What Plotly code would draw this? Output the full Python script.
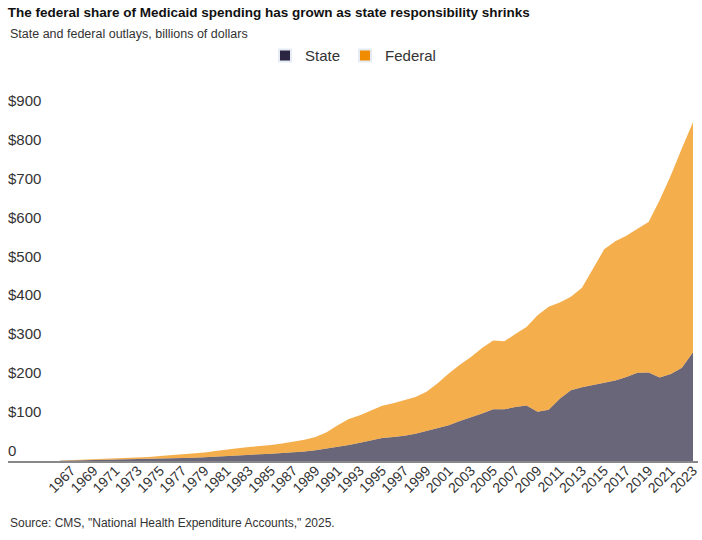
import plotly.graph_objects as go

years = list(range(1966, 2024))

state = [0.8, 1.4, 1.6, 2.0, 2.4, 2.8, 3.5, 4.0, 4.6, 5.9,
         6.6, 7.7, 8.6, 9.8, 11.6, 13.5, 15.0, 16.5, 17.3, 18.6,
         20.0, 22.0, 24.5, 27.5, 32.0, 36.0, 41.0, 47.0, 54.0, 59.0,
         62.0, 65.0, 70.0, 77.0, 85.0, 92.0, 103.0, 112.0, 122.0, 133.0,
         133.0, 139.0, 143.0, 127.0, 132.0, 160.0, 182.0, 190.0, 196.0, 202.0,
         207.0, 216.0, 227.0, 228.0, 215.0, 224.0, 240.0, 280.0]

federal = [0.7, 1.6, 1.9, 2.5, 3.1, 3.7, 4.5, 5.0, 5.9, 7.1,
           8.4, 9.8, 10.9, 12.2, 14.4, 16.5, 18.0, 19.5, 20.7, 22.4,
           25.0, 28.0, 30.5, 34.5, 42.0, 56.0, 67.0, 71.0, 76.0, 83.0,
           87.0, 92.0, 95.0, 101.0, 115.0, 133.0, 145.0, 156.0, 169.0, 177.0,
           175.0, 188.0, 202.0, 248.0, 265.0, 248.0, 241.0, 256.0, 299.0, 343.0,
           359.0, 364.0, 371.0, 387.0, 457.0, 511.0, 565.0, 592.0]

x_ticks = list(range(1967, 2024, 2))
y_ticks = [0, 100, 200, 300, 400, 500, 600, 700, 800, 900]
y_labels = ["0", "$100", "$200", "$300", "$400", "$500", "$600", "$700", "$800", "$900"]

STATE_C = "#2b2541"
FED_C = "#f08c00"
FONT = "Liberation Sans, Arial, sans-serif"

fig = go.Figure()
fig.add_trace(go.Scatter(x=years, y=state, name="State", stackgroup="one",
                         mode="lines", line=dict(width=0, color=STATE_C),
                         fillcolor="rgba(43,37,65,0.7)", showlegend=False))
fig.add_trace(go.Scatter(x=years, y=federal, name="Federal", stackgroup="one",
                         mode="lines", line=dict(width=0, color=FED_C),
                         fillcolor="rgba(240,140,0,0.7)", showlegend=False))
# solid swatches for the legend
fig.add_trace(go.Bar(x=[None], y=[None], name="State", marker_color=STATE_C))
fig.add_trace(go.Bar(x=[None], y=[None], name="Federal", marker_color=FED_C))

# plot area: x 8..698, y 92..461 (range 0..950 so $900 sits at ~112)
fig.update_layout(
    width=702, height=540,
    margin=dict(l=8, r=4, t=92, b=79, autoexpand=False),
    plot_bgcolor="white", paper_bgcolor="white",
    font=dict(family=FONT, size=15, color="#333"),
    title=dict(text="<b>The federal share of Medicaid spending has grown as state responsibility shrinks</b>",
               x=0.011, xanchor="left", y=0.978, yanchor="middle",
               font=dict(family=FONT, size=13.5, color="#111")),
    legend=dict(orientation="h", x=0.5, xanchor="center", y=1.098, yanchor="middle",
                font=dict(family=FONT, size=15, color="#333"),
                itemsizing="constant", traceorder="normal", itemwidth=30),
    showlegend=True,
)

fig.add_annotation(text="State and federal outlays, billions of dollars",
                   xref="paper", yref="paper", x=0, xanchor="left",
                   y=1.157, yanchor="middle", showarrow=False,
                   font=dict(family=FONT, size=12.5, color="#333"))
fig.add_annotation(text='Source: CMS, "National Health Expenditure Accounts," 2025.',
                   xref="paper", yref="paper", x=0, xanchor="left",
                   y=-0.168, yanchor="middle", showarrow=False,
                   font=dict(size=12, color="#333"))

fig.update_xaxes(range=[1961.3, 2023.45], tickvals=x_ticks, ticktext=[str(y) for y in x_ticks],
                 tickangle=-45, showgrid=False, zeroline=False, automargin=False,
                 showline=True, linecolor="#888", linewidth=2, ticklabelstandoff=-6,
                 ticks="", tickfont=dict(size=14, color="#333"))
fig.update_yaxes(range=[0, 950], tickvals=y_ticks, ticktext=y_labels, automargin=False,
                 ticklabelposition="inside top", showgrid=False, zeroline=False,
                 ticklabelstandoff=-3, ticks="", tickfont=dict(size=15, color="#333"))

# page body has a default 8px margin; drop it so the figure sits at the window corner
fig.write_html("out.html", config={"displayModeBar": False},
               post_script="document.body.style.margin='0';")
